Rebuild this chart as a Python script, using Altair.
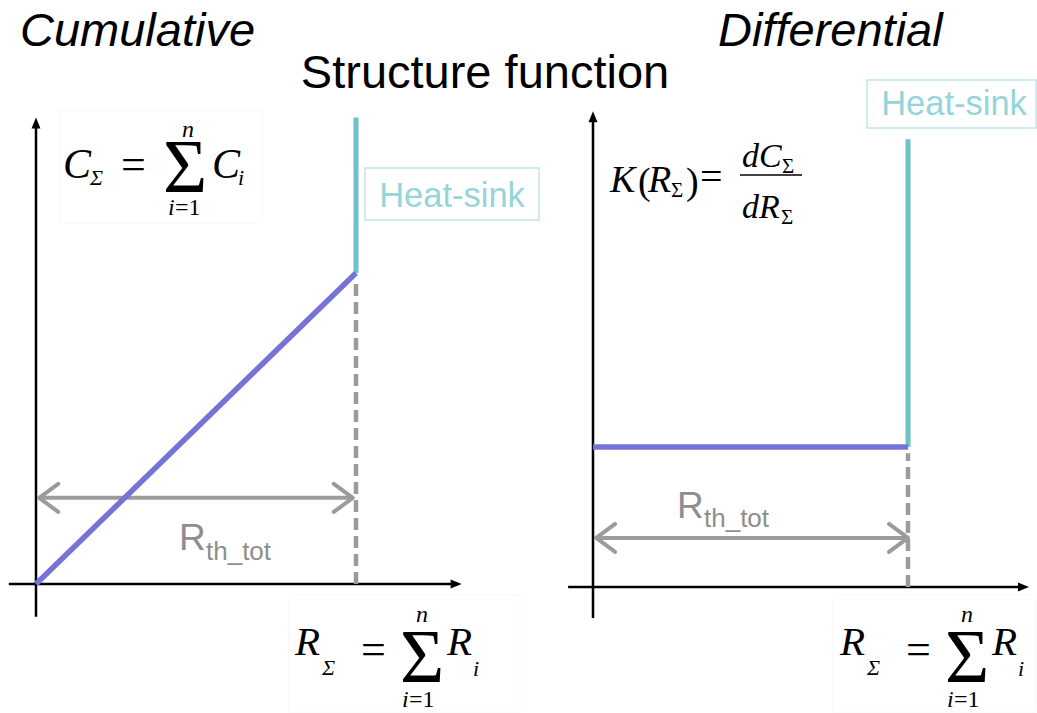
import altair as alt
import pandas as pd

# ---- diagram values (thermal resistance R, capacitance C, differential K) ----
R_TOT = 1.0                      # total thermal resistance up to the heat-sink

cum_R = [0.0, 1.0]               # cumulative structure function (linear part)
cum_C = [0.0, 1.0]
cum_sink_R = [1.0, 1.0]          # heat-sink: vertical rise at R_TOT
cum_sink_C = [1.0, 1.5]
cum_arrow_C = 0.277              # level of the R_th_tot dimension arrow
cum_axis_R = [-0.085, 1.33]      # drawn extent of the axes
cum_axis_C = [-0.105, 1.5]

diff_R = [0.0, 1.0]              # differential structure function (constant K)
diff_K = [0.45, 0.45]
diff_sink_R = [1.0, 1.0]
diff_sink_K = [0.45, 1.44]
diff_arrow_K = 0.158
diff_axis_R = [-0.079, 1.384]
diff_axis_K = [-0.1, 1.53]

# ---- styles ----
PURPLE = "#7474d8"
TEAL = "#72c1c8"
SINK_TEXT = "#93d5da"
SINK_BOX = "#bfe6e9"
GREY = "#9b9b9b"
GREY_TEXT = "#8e8e8e"
FAINT = "#f7f7f7"
SANS = "Liberation Sans"
SERIF = "Liberation Serif"
H = 713
W_LEFT, W_RIGHT = 555, 482

TRI_RIGHT = "M0,0L-1,-0.41L-1,0.41Z"
TRI_UP = "M0,0L-0.41,1L0.41,1Z"
CHEV_LEFT = "M1,-0.74L0,0L1,0.74"
CHEV_RIGHT = "M-1,-0.74L0,0L-1,0.74"

ONE = alt.Data(values=[{"k": 0}])


def scales(xdom, ydom):
    return (alt.Scale(domain=xdom, nice=False, zero=False),
            alt.Scale(domain=ydom, nice=False, zero=False))


def segment(x0, x1, y0, y1, xs, ys, color, width, dash=None):
    df = pd.DataFrame({"x": [x0], "x2": [x1], "y": [y0], "y2": [y1]})
    kw = dict(color=color, strokeWidth=width)
    if dash:
        kw["strokeDash"] = dash
    return alt.Chart(df).mark_rule(**kw).encode(
        x=alt.X("x:Q", scale=xs, axis=None), x2="x2:Q",
        y=alt.Y("y:Q", scale=ys, axis=None), y2="y2:Q")


def polyline(xv, yv, xs, ys, color, width):
    df = pd.DataFrame({"x": xv, "y": yv, "o": list(range(len(xv)))})
    return alt.Chart(df).mark_line(color=color, strokeWidth=width, strokeCap="butt").encode(
        x=alt.X("x:Q", scale=xs, axis=None),
        y=alt.Y("y:Q", scale=ys, axis=None), order="o:Q")


def head(x, y, xs, ys, shape, size, color, filled, width=1):
    df = pd.DataFrame({"x": [x], "y": [y]})
    if filled:
        mk = alt.Chart(df).mark_point(shape=shape, size=size, filled=True, color=color,
                                      opacity=1, strokeWidth=0)
    else:
        mk = alt.Chart(df).mark_point(shape=shape, size=size, filled=False, color=color,
                                      opacity=1, strokeWidth=width, strokeCap="round",
                                      strokeJoin="round")
    return mk.encode(x=alt.X("x:Q", scale=xs, axis=None),
                     y=alt.Y("y:Q", scale=ys, axis=None))


def txt(s, x, y, size, font=SANS, italic=False, color="black", align="left"):
    return alt.Chart(ONE).mark_text(
        text=s, fontSize=size, font=font, fontStyle="italic" if italic else "normal",
        color=color, align=align, baseline="alphabetic").encode(
        x=alt.value(x), y=alt.value(y))


def box(x0, x1, y0, y1, stroke, width=1.0):
    return alt.Chart(ONE).mark_rect(fill="white", stroke=stroke, strokeWidth=width).encode(
        x=alt.value(x0), x2=alt.value(x1), y=alt.value(y0), y2=alt.value(y1))


def rule_px(x0, x1, y, width=1.5):
    return alt.Chart(ONE).mark_rule(color="black", strokeWidth=width).encode(
        x=alt.value(x0), x2=alt.value(x1), y=alt.value(y))


def sum_formula(sym, x0):
    """X_Sigma = Sum_{i=1}^{n} X_i set in serif type, starting at pixel x0."""
    return [
        txt(sym, x0, 655, 41, SERIF, True),
        txt("Σ", x0 + 27, 675, 22, SERIF, True),
        txt("=", x0 + 66, 664, 44, SERIF),
        txt("Σ", x0 + 127, 682, 76, SERIF, align="center"),
        txt("n", x0 + 127, 622, 24, SERIF, True, align="center"),
        txt("i", x0 + 107, 707, 24, SERIF, True),
        txt("=1", x0 + 114, 707, 24, SERIF),
        txt(sym, x0 + 152, 655, 41, SERIF, True),
        txt("i", x0 + 178, 676, 22, SERIF, True),
    ]


# ---------------- left panel: cumulative ----------------
xl, yl = scales([-36 / 320, (W_LEFT - 36) / 320], [-0.4148, 1.8778])
left_layers = [
    box(59, 262, 110, 223, FAINT),
    box(289, 520, 595, 712, FAINT),
    box(365, 539, 168, 220, SINK_BOX, 1.5),
    # axes
    segment(cum_axis_R[0], cum_axis_R[1] - 0.02, 0, 0, xl, yl, "black", 2.5),
    segment(0, 0, cum_axis_C[0], cum_axis_C[1] - 0.02, xl, yl, "black", 2.5),
    head(cum_axis_R[1], 0, xl, yl, TRI_RIGHT, 480, "black", True),
    head(0, cum_axis_C[1], xl, yl, TRI_UP, 480, "black", True),
    # dashed drop line and R_th_tot dimension arrow
    segment(R_TOT, R_TOT, 0, cum_C[-1] - 0.02, xl, yl, GREY, 4.5, [12, 6]),
    segment(0.01, R_TOT - 0.01, cum_arrow_C, cum_arrow_C, xl, yl, GREY, 4),
    head(0.01, cum_arrow_C, xl, yl, CHEV_LEFT, 1444, GREY, False, 4),
    head(R_TOT - 0.01, cum_arrow_C, xl, yl, CHEV_RIGHT, 1444, GREY, False, 4),
    # curves
    polyline(cum_sink_R, cum_sink_C, xl, yl, TEAL, 5),
    polyline(cum_R, cum_C, xl, yl, PURPLE, 5.5),
    # texts
    txt("Cumulative", 20, 46, 47, SANS, True),
    txt("Structure function", 485, 88, 47, SANS, align="center"),
    txt("Heat-sink", 452, 207, 34.5, SANS, color=SINK_TEXT, align="center"),
    txt("R", 179, 550, 37, SANS, color=GREY_TEXT),
    txt("th_tot", 206, 560, 26, SANS, color=GREY_TEXT),
    # C_Sigma = Sum C_i
    txt("C", 63, 178, 42, SERIF, True),
    txt("Σ", 90, 185, 22, SERIF, True),
    txt("=", 121, 179, 44, SERIF),
    txt("Σ", 185, 192, 76, SERIF, align="center"),
    txt("n", 188, 137, 24, SERIF, True, align="center"),
    txt("i", 168, 215, 24, SERIF, True),
    txt("=1", 175, 215, 24, SERIF),
    txt("C", 212, 178, 42, SERIF, True),
    txt("i", 238, 185, 22, SERIF, True),
] + sum_formula("R", 295)

left = alt.layer(*left_layers).properties(width=W_LEFT, height=H)

# ---------------- right panel: differential ----------------
OX = 593 - W_LEFT
xr, yr = scales([-OX / 315, (W_RIGHT - OX) / 315], [-0.4051, 1.8875])
right_layers = [
    box(278, 481, 595, 712, FAINT),
    box(312, 481, 80, 128, SINK_BOX, 1.5),
    segment(diff_axis_R[0], diff_axis_R[1] - 0.02, 0, 0, xr, yr, "black", 2.5),
    segment(0, 0, diff_axis_K[0], diff_axis_K[1] - 0.02, xr, yr, "black", 2.5),
    head(diff_axis_R[1], 0, xr, yr, TRI_RIGHT, 480, "black", True),
    head(0, diff_axis_K[1], xr, yr, TRI_UP, 480, "black", True),
    segment(R_TOT, R_TOT, 0, diff_K[-1] - 0.02, xr, yr, GREY, 4.5, [12, 6]),
    segment(0.01, R_TOT, diff_arrow_K, diff_arrow_K, xr, yr, GREY, 4),
    head(0.01, diff_arrow_K, xr, yr, CHEV_LEFT, 1444, GREY, False, 4),
    head(R_TOT, diff_arrow_K, xr, yr, CHEV_RIGHT, 1444, GREY, False, 4),
    polyline(diff_sink_R, diff_sink_K, xr, yr, TEAL, 5),
    polyline(diff_R, diff_K, xr, yr, PURPLE, 5.5),
    txt("Differential", 163, 46, 47, SANS, True),
    txt("Heat-sink", 399, 115, 34.5, SANS, color=SINK_TEXT, align="center"),
    txt("R", 122, 518, 37, SANS, color=GREY_TEXT),
    txt("th_tot", 149, 527, 26, SANS, color=GREY_TEXT),
    # K(R_Sigma) = dC_Sigma / dR_Sigma
    txt("K", 55, 192, 38, SERIF, True),
    txt("(", 83, 194, 38, SERIF),
    txt("R", 93, 192, 38, SERIF, True),
    txt("Σ", 116, 197, 21, SERIF),
    txt(")", 131, 194, 38, SERIF),
    txt("=", 145, 190, 40, SERIF),
    rule_px(185, 247, 175),
    txt("dC", 187, 167, 34, SERIF, True),
    txt("Σ", 227, 173, 21, SERIF),
    txt("dR", 187, 218, 34, SERIF, True),
    txt("Σ", 226, 224, 21, SERIF),
] + sum_formula("R", 285)

right = alt.layer(*right_layers).properties(width=W_RIGHT, height=H)

chart = alt.hconcat(left, right, spacing=0, bounds="flush").properties(
    padding=0, background="white"
).configure_view(stroke=None)

chart.save("out.html", embed_options={"renderer": "svg", "actions": False})
